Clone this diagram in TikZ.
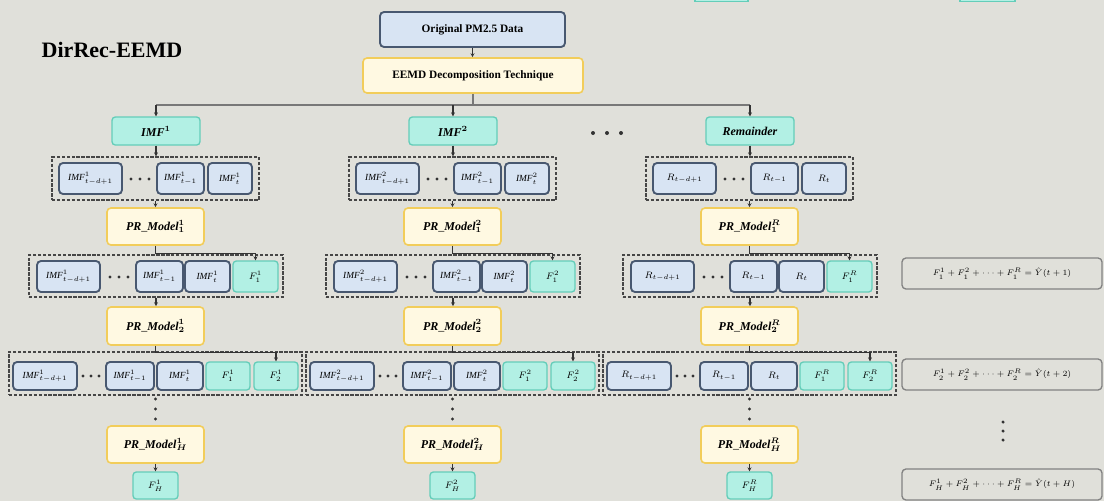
\documentclass[tikz,border=0pt]{standalone}
\usepackage{fontspec}
\setmainfont{Liberation Serif}
\usetikzlibrary{arrows.meta}
\definecolor{bg}{RGB}{224,224,218}
\definecolor{blueF}{RGB}{216,228,243}
\definecolor{blueD}{RGB}{72,88,112}
\definecolor{cyanF}{RGB}{178,240,228}
\definecolor{cyanD}{RGB}{100,205,185}
\definecolor{yelF}{RGB}{255,249,226}
\definecolor{yelD}{RGB}{242,205,90}
\definecolor{dashc}{RGB}{70,70,70}
\definecolor{eqD}{RGB}{130,130,130}
\definecolor{lineG}{RGB}{120,120,120}
\tikzset{
  base/.style={inner sep=0pt,font=\fontsize{7}{8}\selectfont},
  bluebox/.style={base,draw=blueD,fill=blueF,rounded corners=3pt,line width=1.4pt},
  cyanbox/.style={base,draw=cyanD,fill=cyanF,rounded corners=2.5pt,line width=1pt,font=\fontsize{7.5}{8}\selectfont},
  topbox/.style={cyanbox,font=\fontsize{9}{10}\selectfont\boldmath\bfseries},
  yelbox/.style={base,draw=yelD,fill=yelF,rounded corners=3pt,line width=1.2pt,font=\fontsize{9}{10}\selectfont\boldmath},
  dashbox/.style={inner sep=0pt,draw=dashc,line width=1pt,dash pattern=on 2.5pt off 1.2pt},
  eqbox/.style={base,draw=eqD,fill=bg,rounded corners=3pt,line width=1pt,font=\fontsize{6.5}{7}\selectfont},
  conn/.style={draw=black!80,line width=0.8pt,-{Stealth[length=3pt,width=3pt]}},
  gline/.style={draw=lineG,line width=1.6pt},
  dot/.style={fill=black!80}
}
\newcommand\bx[7]{%
  \pgfmathsetmacro\bxw{((#5)-(#3))*0.75}%
  \pgfmathsetmacro\bxh{((#6)-(#4))*0.75}%
  \node[#2,minimum width=\bxw pt,minimum height=\bxh pt] (#1) at ({((#3)+(#5))/2},{((#4)+(#6))/2}) {#7};}
% #1 prefix, #2 offset, #3 top text, #4 lab t-d+1, #5 lab t-1, #6 lab t, #7 superscript
\newcommand\drawcol[7]{%
  \bx{#1top}{topbox}{112+#2}{117}{200+#2}{145}{#3}
  % row 1
  \bx{#1r1}{dashbox}{52+#2}{157}{259+#2}{200}{}
  \bx{#1b11}{bluebox}{59+#2}{163}{122+#2}{194}{$#4$}
  \bx{#1b12}{bluebox}{157+#2}{163}{204+#2}{194}{$#5$}
  \bx{#1b13}{bluebox}{208+#2}{163}{252+#2}{194}{$#6$}
  \foreach \xx in {131,140,149} \fill[dot] (\xx+#2,179) circle[radius=1.3pt];
  \bx{#1p1}{yelbox}{107+#2}{208}{204+#2}{245}{$\mathit{PR\_Model}^{#7}_{1}$}
  % row 2
  \bx{#1r2}{dashbox}{29+#2}{255}{283+#2}{297}{}
  \bx{#1b21}{bluebox}{37+#2}{261}{100+#2}{292}{$#4$}
  \bx{#1b22}{bluebox}{136+#2}{261}{183+#2}{292}{$#5$}
  \bx{#1b23}{bluebox}{185+#2}{261}{230+#2}{292}{$#6$}
  \bx{#1f21}{cyanbox}{233+#2}{261}{278+#2}{292}{$F^{#7}_{1}$}
  \foreach \xx in {110,119,128} \fill[dot] (\xx+#2,277) circle[radius=1.3pt];
  \bx{#1p2}{yelbox}{107+#2}{307}{204+#2}{345}{$\mathit{PR\_Model}^{#7}_{2}$}
  % row 3
  \bx{#1r3}{dashbox}{9+#2}{352}{302+#2}{395}{}
  \bx{#1b31}{bluebox}{13+#2}{362}{77+#2}{390}{$#4$}
  \bx{#1b32}{bluebox}{106+#2}{362}{154+#2}{390}{$#5$}
  \bx{#1b33}{bluebox}{157+#2}{362}{203+#2}{390}{$#6$}
  \bx{#1f31}{cyanbox}{206+#2}{362}{250+#2}{390}{$F^{#7}_{1}$}
  \bx{#1f32}{cyanbox}{254+#2}{362}{298+#2}{390}{$F^{#7}_{2}$}
  \foreach \xx in {83,91,99} \fill[dot] (\xx+#2,376) circle[radius=1.3pt];
  \foreach \yy in {399,409,419} \fill[dot] (155.5+#2,\yy) circle[radius=1.3pt];
  \bx{#1pH}{yelbox}{107+#2}{426}{204+#2}{463}{$\mathit{PR\_Model}^{#7}_{H}$}
  \bx{#1fH}{cyanbox}{133+#2}{472}{178+#2}{499}{$F^{#7}_{H}$}
  % connectors
  \draw[conn] (#1top.south) -- (#1top.south |- #1r1.north);
  \draw[conn] (#1r1.south) -- (#1r1.south |- #1p1.north);
  \draw[conn] (#1p1.south) -- ++(0,8) -| (#1f21.north);
  \draw[conn] (#1r2.south) -- (#1r2.south |- #1p2.north);
  \draw[conn] (#1p2.south) -- ++(0,7) -| (#1f32.north);
  \draw[conn] (#1pH.south) -- (#1fH.north);
}
\begin{document}
\begin{tikzpicture}[x=0.75pt,y=-0.75pt]
\useasboundingbox (0,0) rectangle (1104,501);
\fill[bg] (0,0) rectangle (1104,501);
\clip (0,0) rectangle (1104,501);
% cropped boxes at the top edge
\fill[cyanF,draw=cyanD,line width=1pt] (695,-8) rectangle (748,1.5);
\fill[cyanF,draw=cyanD,line width=1pt] (960,-8) rectangle (1015,1.5);
% title
\node[font=\fontsize{16.5}{18}\selectfont\bfseries] (title) at (112,50) {DirRec-EEMD};
% top nodes
\bx{orig}{bluebox,font=\fontsize{8.5}{10}\selectfont\bfseries}{380}{12}{565}{47}{Original PM2.5 Data}
\bx{eemd}{yelbox,font=\fontsize{8.5}{10}\selectfont\bfseries}{363}{58}{583}{93}{EEMD Decomposition Technique}
\draw[conn] (orig.south) -- (orig.south |- eemd.north);
% columns
\drawcol{a}{0}{$\mathit{IMF}^1$}{\mathit{IMF}^1_{t-d+1}}{\mathit{IMF}^1_{t-1}}{\mathit{IMF}^1_{t}}{1}
\drawcol{b}{297}{$\mathit{IMF}^2$}{\mathit{IMF}^2_{t-d+1}}{\mathit{IMF}^2_{t-1}}{\mathit{IMF}^2_{t}}{2}
\drawcol{c}{594}{\textit{Remainder}}{R_{t-d+1}}{R_{t-1}}{R_{t}}{R}
% distribution line
\coordinate (hl) at (155,105);
\draw[gline] (eemd.south) -- (eemd.south |- hl);
\draw[gline] (atop.north |- hl) -- (ctop.north |- hl);
\draw[conn] (atop.north |- hl) -- (atop.north);
\draw[conn] (btop.north |- hl) -- (btop.north);
\draw[conn] (ctop.north |- hl) -- (ctop.north);
\foreach \xx in {593,607,621} \fill[dot] (\xx,133) circle[radius=1.5pt];
% equation boxes
\bx{e1}{eqbox}{902}{258}{1102}{289}{$F_1^1+F_1^2+\cdots+F_1^R=\hat{Y}(t+1)$}
\bx{e2}{eqbox}{902}{359}{1102}{390}{$F_2^1+F_2^2+\cdots+F_2^R=\hat{Y}(t+2)$}
\bx{e3}{eqbox}{902}{469}{1102}{500}{$F_H^1+F_H^2+\cdots+F_H^R=\hat{Y}(t+H)$}
\foreach \yy in {422,431,440} \fill[dot] (1003,\yy) circle[radius=1.3pt];
\end{tikzpicture}
\end{document}
